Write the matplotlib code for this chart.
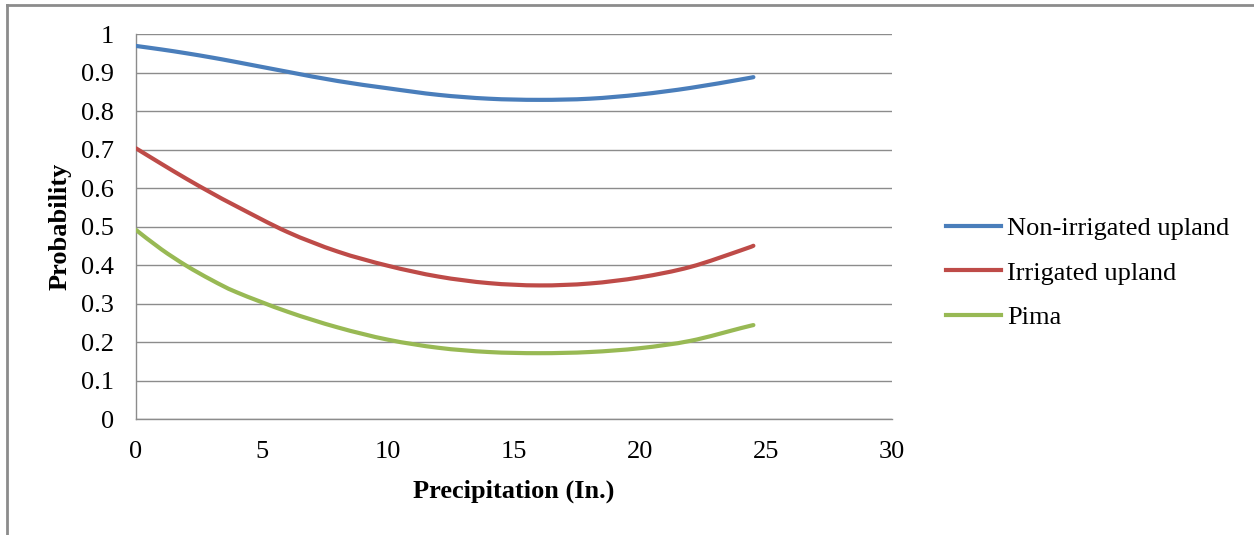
import matplotlib
matplotlib.use("Agg")
import matplotlib.pyplot as plt
from matplotlib.lines import Line2D
from matplotlib.path import Path
from matplotlib.patches import PathPatch

# precipitation (in.) and probabilities
precip = [0, 1, 2, 3, 4, 6, 8, 10, 12, 14, 16, 18, 20, 22, 24, 24.5]
non_irrigated = [0.969, 0.960, 0.950, 0.939, 0.927, 0.902, 0.878, 0.859, 0.842,
                 0.832, 0.829, 0.832, 0.843, 0.860, 0.882, 0.888]
irrigated = [0.703, 0.663, 0.624, 0.587, 0.552, 0.486, 0.435, 0.398, 0.370,
             0.353, 0.347, 0.352, 0.368, 0.395, 0.438, 0.450]
pima = [0.491, 0.441, 0.398, 0.361, 0.329, 0.279, 0.238, 0.206, 0.185,
        0.174, 0.171, 0.174, 0.184, 0.203, 0.236, 0.244]

series_names = ["Non-irrigated upland", "Irrigated upland", "Pima"]
colors = ["#4a7ebb", "#be4b48", "#98b954"]

xticks = [0, 5, 10, 15, 20, 25, 30]
yticks = [0, 0.1, 0.2, 0.3, 0.4, 0.5, 0.6, 0.7, 0.8, 0.9, 1]
ytick_labels = ["0", "0.1", "0.2", "0.3", "0.4", "0.5", "0.6", "0.7", "0.8", "0.9", "1"]

FS = 19


def smooth_path(xs, ys):
    # Excel-style smoothed line: Catmull-Rom segments as cubic beziers
    pts = list(zip(xs, ys))
    n = len(pts)
    verts = [pts[0]]
    codes = [Path.MOVETO]
    for i in range(n - 1):
        p0 = pts[max(i - 1, 0)]
        p1 = pts[i]
        p2 = pts[i + 1]
        p3 = pts[min(i + 2, n - 1)]
        c1 = (p1[0] + (p2[0] - p0[0]) / 6, p1[1] + (p2[1] - p0[1]) / 6)
        c2 = (p2[0] - (p3[0] - p1[0]) / 6, p2[1] - (p3[1] - p1[1]) / 6)
        verts += [c1, c2, p2]
        codes += [Path.CURVE4] * 3
    return Path(verts, codes)


plt.rcParams["font.family"] = ["Liberation Serif", "DejaVu Serif"]

fig = plt.figure(figsize=(12.54, 5.35), dpi=100)
ax = fig.add_axes([0.1085, 0.2168, 0.6028, 0.7196])

for ys, c in zip([non_irrigated, irrigated, pima], colors):
    ax.add_patch(PathPatch(smooth_path(precip, ys), fill=False, edgecolor=c,
                           lw=3, capstyle="round", zorder=3))

ax.set_xlim(0, 30)
ax.set_ylim(0, 1)
ax.set_xticks(xticks)
ax.set_yticks(yticks)
ax.set_yticklabels(ytick_labels)
ax.tick_params(length=0, labelsize=FS)
ax.tick_params(axis="y", pad=16)
ax.tick_params(axis="x", pad=16)
ax.grid(axis="y", color="#8c8c8c", lw=1)
ax.set_axisbelow(True)
for s in ["top", "right"]:
    ax.spines[s].set_visible(False)
for s in ["left", "bottom"]:
    ax.spines[s].set_color("#8c8c8c")
    ax.spines[s].set_linewidth(1)

ax.set_xlabel("Precipitation (In.)", fontsize=FS, fontweight="bold", labelpad=12)
ax.set_ylabel("Probability", fontsize=FS, fontweight="bold", labelpad=7)

handles = [Line2D([], [], color=c, lw=3) for c in colors]
fig.legend(handles, series_names, loc="center left", bbox_to_anchor=(0.7355, 0.49),
           frameon=False, fontsize=FS, handlelength=2.1, handletextpad=0.2,
           labelspacing=0.81)

# outer chart border (left and top)
fig.add_artist(Line2D([0.0055, 0.0055], [0, 0.991], color="#8c8c8c", lw=2))
fig.add_artist(Line2D([0.0055, 1], [0.991, 0.991], color="#8c8c8c", lw=2))

fig.savefig("out.png", dpi=100)
